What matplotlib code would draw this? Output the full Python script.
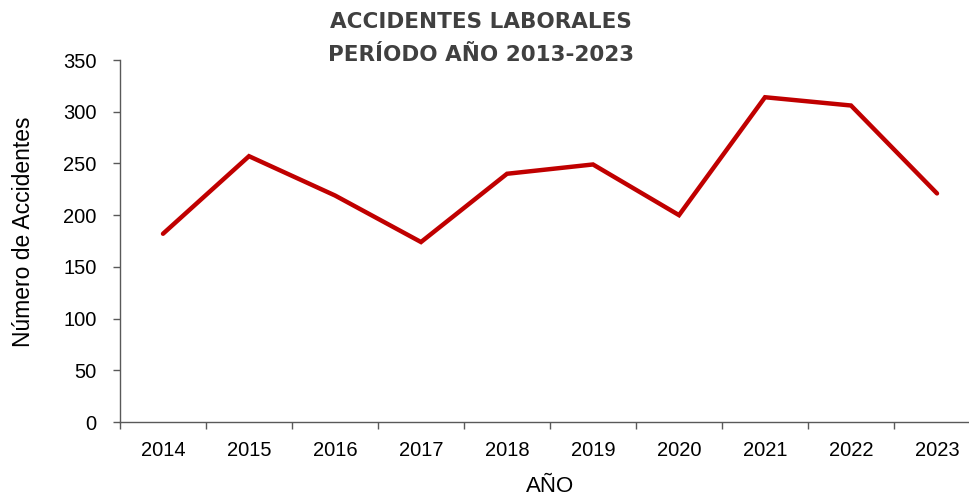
import matplotlib.pyplot as plt
import numpy as np

plt.rcParams['font.family'] = ['Liberation Sans', 'DejaVu Sans']

years = ['2014', '2015', '2016', '2017', '2018', '2019', '2020', '2021', '2022', '2023']
accidentes = [182, 257, 219, 174, 240, 249, 200, 314, 306, 221]

fig = plt.figure(figsize=(9.7, 4.97), dpi=100)
# the plot area runs a bit past the right edge, like in the original
ax = fig.add_axes([120/970, 75/497, 860/970, 362/497])

x = np.arange(len(years))
ax.plot(x, accidentes, color='#C00000', lw=3.2, solid_joinstyle='miter', solid_capstyle='round')

ax.set_xlim(-0.5, len(years) - 0.5)
ax.set_ylim(0, 350)
ax.set_yticks(range(0, 351, 50))
ax.set_xticks(x)
ax.set_xticklabels(years)
ax.set_xticks(np.arange(-0.5, len(years), 1), minor=True)

ax.tick_params(axis='x', which='major', length=0, pad=14, labelsize=14.5)
ax.tick_params(axis='x', which='minor', length=5, width=1, color='#595959', direction='out')
ax.tick_params(axis='y', length=5, width=1, color='#595959', pad=12, labelsize=14.5)

for s in ['top', 'right']:
    ax.spines[s].set_visible(False)
for s in ['left', 'bottom']:
    ax.spines[s].set_color('#595959')
    ax.spines[s].set_linewidth(1)

# axis titles placed by hand
fig.text(24/970, 1 - 232/497, 'Número de Accidentes', rotation=90, ha='center', va='center', fontsize=16.5)
fig.text(550/970, 1 - 486/497, 'AÑO', ha='center', va='center', fontsize=16)

fig.text(0.496, 1 - 22/497, 'ACCIDENTES LABORALES', ha='center', va='center',
         fontsize=15.5, fontweight='bold', color='#404040', family='DejaVu Sans')
fig.text(0.496, 1 - 55/497, 'PERÍODO AÑO 2013-2023', ha='center', va='center',
         fontsize=15.5, fontweight='bold', color='#404040', family='DejaVu Sans')

fig.savefig('out.png', dpi=100)
